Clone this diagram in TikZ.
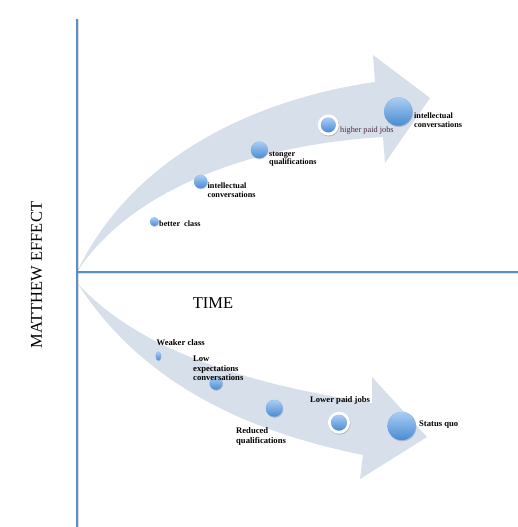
\documentclass[tikz,border=0pt]{standalone}
\usepackage{fontspec}
\setmainfont{Liberation Serif}
\definecolor{bandcol}{HTML}{D6DFEA}
\definecolor{axiscol}{HTML}{5B8EC4}
\definecolor{dotlight}{HTML}{A9CDF3}
\definecolor{dotdark}{HTML}{4A8BD3}
\definecolor{hpjcol}{HTML}{4A2A40}
\tikzset{
  bandfill/.style={fill=bandcol, draw=none},
  axisline/.style={draw=axiscol, line width=2.5pt},
  axisshadow/.style={draw=black, line width=1pt, opacity=0.12},
  ballbase/.style={fill=dotlight!50!dotdark, draw=none},
  ballshade/.style={top color=dotlight, bottom color=dotdark, draw=none},
  ballshadow/.style={fill=black, opacity=0.16, draw=none},
  ringfill/.style={fill=white, draw=none},
  uplabel/.style={anchor=west, inner sep=0pt, align=left, font=\fontsize{8.2}{8.5}\selectfont\bfseries},
  lowlabel/.style={anchor=west, inner sep=0pt, align=left, font=\fontsize{8.6}{9.5}\selectfont\bfseries},
  bigtext/.style={inner sep=0pt, font=\fontsize{16.5}{18}\selectfont},
}
% \ballat{name}{x}{y}{radius}
\newcommand\ballat[4]{%
  \coordinate (#1) at (#2,#3);
  \fill[ballshadow] ([shift={(0.5,1)}]#1) circle (#4);
  \fill[ballbase] (#1) circle (#4);
  \shade[ballshade] (#1) circle (#4-0.2);
}
% \ringballat{name}{x}{y}{outer radius}{inner radius}
\newcommand\ringballat[5]{%
  \coordinate (#1) at (#2,#3);
  \fill[ballshadow] ([shift={(0.5,1)}]#1) circle (#4);
  \fill[ringfill] (#1) circle (#4);
  \fill[ballbase] (#1) circle (#5);
  \shade[ballshade] (#1) circle (#5-0.2);
}
\begin{document}
\begin{tikzpicture}[x=1pt, y=-1pt]
\useasboundingbox[fill=white] (0,0) rectangle (518,527);

% upper arrow band
\coordinate (ut) at (77,272);
\coordinate (uhs) at (375,82);
\coordinate (uhb) at (373,55);
\coordinate (uhtip) at (430,98);
\coordinate (uhc) at (385,163);
\coordinate (uhl) at (383,137);
\fill[bandfill] (ut) .. controls (130,160) and (250,100) .. (uhs) -- (uhb) -- (uhtip) -- (uhc) -- (uhl)
  .. controls (250,145) and (130,190) .. (ut) -- cycle;

% lower arrow band
\coordinate (lt) at (78,284);
\coordinate (lhs) at (372,403);
\coordinate (lhb) at (372,377);
\coordinate (lhtip) at (427,437);
\coordinate (lhc) at (360,479);
\coordinate (lhl) at (363,455);
\fill[bandfill] (lt) .. controls (130,340) and (220,380) .. (lhs) -- (lhb) -- (lhtip) -- (lhc) -- (lhl)
  .. controls (240,430) and (140,380) .. (lt) -- cycle;

% axes
\coordinate (vtop) at (77,19);
\coordinate (vbot) at (77,527);
\coordinate (orig) at (77,272);
\coordinate (hend) at (518,272);
\draw[axisshadow] (78.8,19) -- (78.8,527);
\draw[axisshadow] (77,273.8) -- (518,273.8);
\draw[axisline] (vtop) -- (vbot);
\draw[axisline] (orig) -- (hend);

% axis titles
\node[bigtext, rotate=90] (ytitle) at (36.5,275) {MATTHEW EFFECT};
\node[bigtext] (xtitle) at (213,303.5) {TIME};

% upper dots
\ballat{u1}{154.3}{221.7}{4.5}
\ballat{u2}{200.7}{181.7}{6.75}
\ballat{u3}{259.3}{150}{8.5}
\ringballat{u4}{328.3}{125}{10.5}{7.5}
\ballat{u5}{398.3}{111.7}{14.25}

\node[uplabel] (u1t) at (159,223.5) {better\ \ class};
\node[uplabel] (u2t) at (207.5,190) {intellectual\\conversations};
\node[uplabel] (u3t) at (269,159) {stonger\\qualifications};
\node[uplabel, font=\fontsize{8.3}{9}\selectfont, text=hpjcol] (u4t) at (340,130.5) {higher paid jobs};
\node[uplabel] (u5t) at (414,120) {intellectual\\conversations};

% lower dots
\coordinate (l1) at (158.3,356);
\fill[ballshadow] ([shift={(0.4,0.8)}]l1) ellipse [x radius=2.75, y radius=4.5];
\fill[ballbase] (l1) ellipse [x radius=2.75, y radius=4.5];
\shade[ballshade] (l1) ellipse [x radius=2.6, y radius=4.35];
\ballat{l2}{216}{383.3}{6.5}
\ballat{l3}{274.3}{408.3}{8.5}
\ringballat{l4}{339}{422.7}{11}{8}
\ballat{l5}{401.7}{426}{14.25}

\node[lowlabel] (l1t) at (156.5,342.5) {Weaker class};
\node[lowlabel] (l2t) at (193,368.5) {Low\\expectations\\conversations};
\node[lowlabel] (l3t) at (236,436.5) {Reduced\\qualifications};
\node[lowlabel] (l4t) at (310,400.5) {Lower paid jobs};
\node[lowlabel] (l5t) at (419,424.3) {Status quo};
\end{tikzpicture}
\end{document}
